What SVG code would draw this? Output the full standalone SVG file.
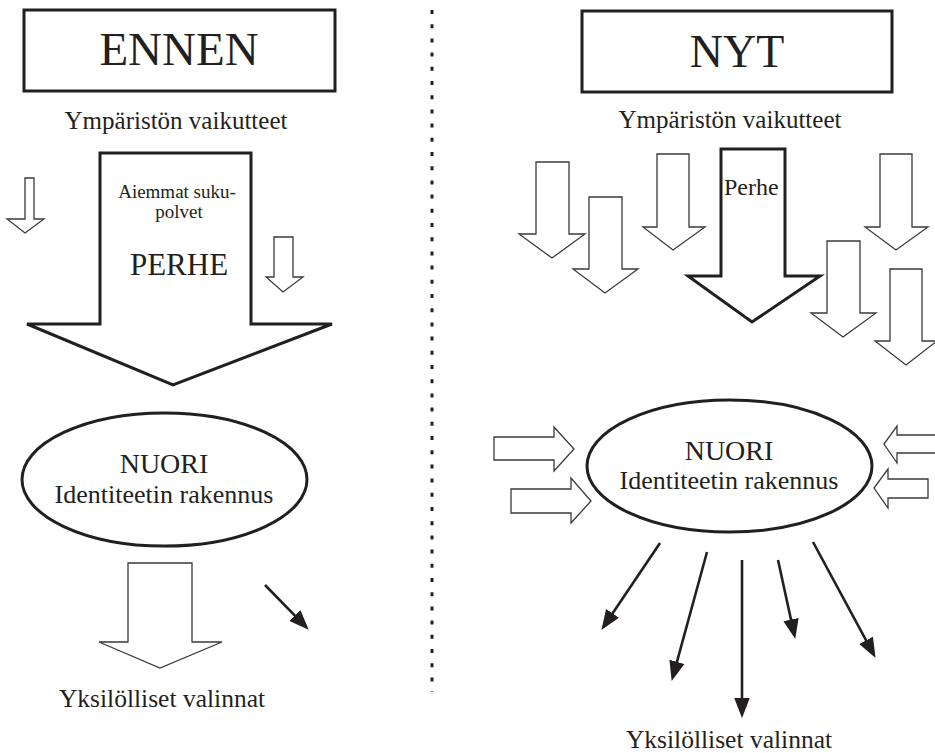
<svg xmlns="http://www.w3.org/2000/svg" width="935" height="753" viewBox="0 0 935 753">
<defs>
<style>
text{font-family:"Liberation Serif","Times New Roman",serif;fill:#231f20;text-anchor:middle}
.box{fill:#fff;stroke:#231f20;stroke-width:3}
.big{fill:#fff;stroke:#231f20;stroke-width:3;stroke-linejoin:miter}
.thin{fill:#fff;stroke:#3a3a3a;stroke-width:1.3;stroke-linejoin:miter}
.oval{fill:#fff;stroke:#231f20;stroke-width:3}
.con{stroke:#231f20;stroke-width:2.6;fill:none}
</style>
<marker id="ah" markerUnits="userSpaceOnUse" markerWidth="20" markerHeight="16" refX="8" refY="7" orient="auto" viewBox="0 0 18 14">
<path d="M0,0 L18,7 L0,14 z" fill="#231f20"/>
</marker>
</defs>
<rect width="935" height="753" fill="#fff"/>
<line x1="432" y1="10" x2="432" y2="692" stroke="#231f20" stroke-width="3" stroke-dasharray="4 10.2"/>

<g id="ennen">
<rect class="box" x="24" y="10" width="311" height="81"/>
<text x="179" y="65" font-size="47">ENNEN</text>
</g>
<g id="ymp-left"><text x="176" y="129" font-size="25">Ympäristön vaikutteet</text></g>

<g id="perhe-left">
<polygon class="big" points="100,153 251,153 251,324 332,324 173,385 27,324 100,324"/>
<text x="177" y="198" font-size="19">Aiemmat suku-</text>
<text x="179" y="218" font-size="19">polvet</text>
<text x="179" y="275" font-size="31">PERHE</text>
</g>
<g id="small-left-1"><polygon class="thin" points="25,178 34,178 34,219 44,219 25,233 7,219 25,219"/></g>
<g id="small-left-2"><polygon class="thin" points="274,237 293,237 293,277 303,277 283,292 266,277 274,277"/></g>

<g id="nuori-left">
<ellipse class="oval" cx="164.5" cy="479.5" rx="142.5" ry="66.5"/>
<text x="164" y="473" font-size="28">NUORI</text>
<text x="164" y="503" font-size="26">Identiteetin rakennus</text>
</g>
<g id="out-left"><polygon class="thin" points="128,563 192,563 192,642 222,642 160,668 99,642 128,642"/></g>
<g id="valinnat-left"><text x="162" y="707" font-size="25.5">Yksilölliset valinnat</text></g>

<g id="nyt">
<rect class="box" x="582" y="11" width="310" height="81"/>
<text x="737" y="67" font-size="46">NYT</text>
</g>
<g id="ymp-right"><text x="730" y="128" font-size="25">Ympäristön vaikutteet</text></g>

<g id="in-a"><polygon class="thin" points="536,162 569,162 569,234 585,234 552,258 519,234 536,234"/></g>
<g id="in-b"><polygon class="thin" points="589,197 622,197 622,269 638,269 605,293 573,269 589,269"/></g>
<g id="in-c"><polygon class="thin" points="657,154 689,154 689,227 705,227 673,250 643,227 657,227"/></g>
<g id="perhe-right">
<polygon class="big" points="721,149 785,149 785,276 820,276 752,322 688,276 721,276"/>
<text x="724" y="195" font-size="24" style="text-anchor:start">Perhe</text>
</g>
<g id="in-d"><polygon class="thin" points="880,154 912,154 912,227 928,227 896,250 865,227 880,227"/></g>
<g id="in-e"><polygon class="thin" points="827,241 860,241 860,313 876,313 843,337 811,313 827,313"/></g>
<g id="in-f"><polygon class="thin" points="890,269 922,269 922,341 937,341 906,365 875,341 890,341"/></g>

<g id="in-g"><polygon class="thin" points="494,437 554,437 554,427 574,449 554,471 554,460 494,460"/></g>
<g id="in-h"><polygon class="thin" points="511,489 571,489 571,478 591,501 571,523 571,513 511,513"/></g>
<g id="in-i"><polygon class="thin" points="940,435 897,435 897,426 884,444 897,463 897,453 940,453"/></g>
<g id="in-j"><polygon class="thin" points="928,479 888,479 888,469 874,488 888,508 888,498 928,498"/></g>

<g id="nuori-right">
<ellipse class="oval" cx="729.5" cy="466" rx="142.5" ry="66"/>
<text x="729" y="460" font-size="28">NUORI</text>
<text x="729" y="489" font-size="26">Identiteetin rakennus</text>
</g>
<g id="valinnat-right"><text x="729" y="748" font-size="25.5">Yksilölliset valinnat</text></g>

<g id="connectors">
<line class="con" x1="265" y1="585" x2="301" y2="621.8" marker-end="url(#ah)"/>
<line class="con" x1="660" y1="543" x2="607.6" y2="620.7" marker-end="url(#ah)"/>
<line class="con" x1="707" y1="552" x2="674.6" y2="670.4" marker-end="url(#ah)"/>
<line class="con" x1="742" y1="560" x2="742" y2="707" marker-end="url(#ah)"/>
<line class="con" x1="778" y1="560" x2="792.9" y2="628.2" marker-end="url(#ah)"/>
<line class="con" x1="813" y1="542" x2="870.3" y2="648.2" marker-end="url(#ah)"/>
</g>
</svg>
